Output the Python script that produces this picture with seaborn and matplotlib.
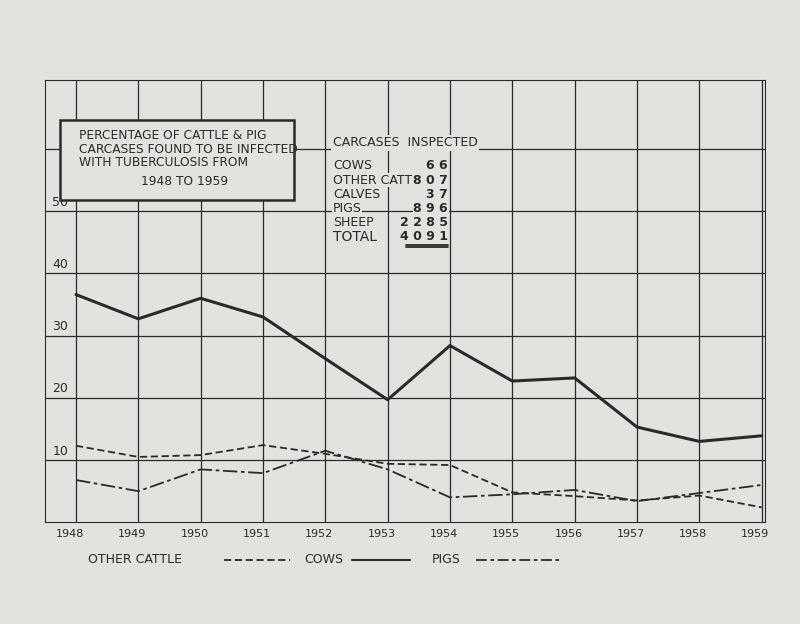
import numpy as np
import pandas as pd
import seaborn as sns
import matplotlib.pyplot as plt
from matplotlib.patches import Rectangle

years = [1948, 1949, 1950, 1951, 1952, 1953, 1954, 1955, 1956, 1957, 1958, 1959]
cows = [36.6, 32.7, 36.0, 33.0, 26.3, 19.7, 28.4, 22.7, 23.2, 15.3, 13.0, 13.9]
other_cattle = [12.3, 10.5, 10.8, 12.4, 11.0, 9.4, 9.2, 4.8, 4.2, 3.5, 4.3, 2.4]
pigs = [6.8, 5.0, 8.5, 7.9, 11.5, 8.5, 4.0, 4.5, 5.2, 3.4, 4.7, 6.0]
inspected_labels = ["COWS", "OTHER CATTLE", "CALVES", "PIGS", "SHEEP"]
inspected_counts = ["6 6", "8 0 7", "3 7", "8 9 6", "2 2 8 5"]

bg = "#e4e2de"
ink = "#2a2a2a"
sns.set_style("white")
plt.rcParams['font.family'] = ['DejaVu Sans']

fig = plt.figure(figsize=(8, 6.24), dpi=100, facecolor=bg)
ax = fig.add_axes([0.056, 0.163, 0.9, 0.708], facecolor=bg)

df = pd.DataFrame({"year": years, "cows": cows, "other": other_cattle, "pigs": pigs})
sns.lineplot(data=df, x="year", y="cows", ax=ax, color=ink, lw=2.2)
sns.lineplot(data=df, x="year", y="other", ax=ax, color=ink, lw=1.3,
             linestyle=(0, (4, 2)))
sns.lineplot(data=df, x="year", y="pigs", ax=ax, color=ink, lw=1.3,
             linestyle=(0, (8, 2, 2, 2)))

ax.set_xlim(1947.5, 1959.05)
ax.set_ylim(0, 71)
for yv in range(10, 70, 10):
    ax.axhline(yv, color=ink, lw=0.9)
for xv in years:
    ax.axvline(xv, color=ink, lw=0.9)
for s in ax.spines.values():
    s.set_color(ink)
ax.set_xticks([])
ax.set_yticks([])
ax.set_xlabel("")
ax.set_ylabel("")
for yv in range(10, 60, 10):
    ax.text(1947.62, yv + 0.4, str(yv), fontsize=9, color=ink, va="bottom")
for yr in years:
    ax.text(yr - 0.1, -1.0, str(yr), fontsize=8, color=ink, ha="center", va="top")

# title box
ax.add_patch(Rectangle((1947.75, 51.8), 3.75, 12.8, fill=True, facecolor=bg,
                       edgecolor=ink, lw=1.8, zorder=5))
ax.text(1948.05, 63.2, "PERCENTAGE OF CATTLE & PIG\nCARCASES FOUND TO BE INFECTED\nWITH TUBERCULOSIS FROM",
        fontsize=8.8, color=ink, va="top", zorder=6, linespacing=1.05)
ax.text(1949.75, 55.8, "1948 TO 1959", fontsize=8.8, color=ink, ha="center", va="top", zorder=6)

# inspected table
ax.text(1952.12, 60.4, "CARCASES  INSPECTED", fontsize=9, color=ink, zorder=6,
        bbox=dict(facecolor=bg, edgecolor="none", pad=1))
ax.plot([1952.1, 1953.95], [60.1, 60.1], color=ink, lw=1)
for i, (lab, c) in enumerate(zip(inspected_labels, inspected_counts)):
    yv = 57.3 - i * 2.3
    ax.text(1952.12, yv, lab, fontsize=9, color=ink, va="center", zorder=6,
            bbox=dict(facecolor=bg, edgecolor="none", pad=0.5))
    ax.text(1953.97, yv, c, fontsize=9, color=ink, va="center", ha="right", zorder=6,
            fontweight="bold", bbox=dict(facecolor=bg, edgecolor="none", pad=0.5))
ax.plot([1953.35, 1953.97], [47.2, 47.2], color=ink, lw=1)
ax.text(1952.12, 45.8, "TOTAL", fontsize=10, color=ink, va="center", zorder=6,
        bbox=dict(facecolor=bg, edgecolor="none", pad=0.5))
ax.text(1953.97, 46.0, "4 0 9 1", fontsize=9, color=ink, va="center", ha="right",
        fontweight="bold", zorder=6, bbox=dict(facecolor=bg, edgecolor="none", pad=0.5))
ax.plot([1953.3, 1953.97], [44.6, 44.6], color=ink, lw=1.3)
ax.plot([1953.3, 1953.97], [44.2, 44.2], color=ink, lw=1.3)

# legend as text
ly = 0.103
fig.text(0.11, ly, "OTHER CATTLE", fontsize=9, color=ink, va="center")
fig.add_artist(plt.Line2D([0.28, 0.362], [ly, ly], color=ink, lw=1.3, linestyle=(0, (4, 2))))
fig.text(0.38, ly, "COWS", fontsize=9, color=ink, va="center")
fig.add_artist(plt.Line2D([0.44, 0.512], [ly, ly], color=ink, lw=1.5))
fig.text(0.54, ly, "PIGS", fontsize=9, color=ink, va="center")
fig.add_artist(plt.Line2D([0.595, 0.70], [ly, ly], color=ink, lw=1.3, linestyle=(0, (6, 2, 2, 2))))

fig.savefig("out.png", dpi=100, facecolor=bg)
